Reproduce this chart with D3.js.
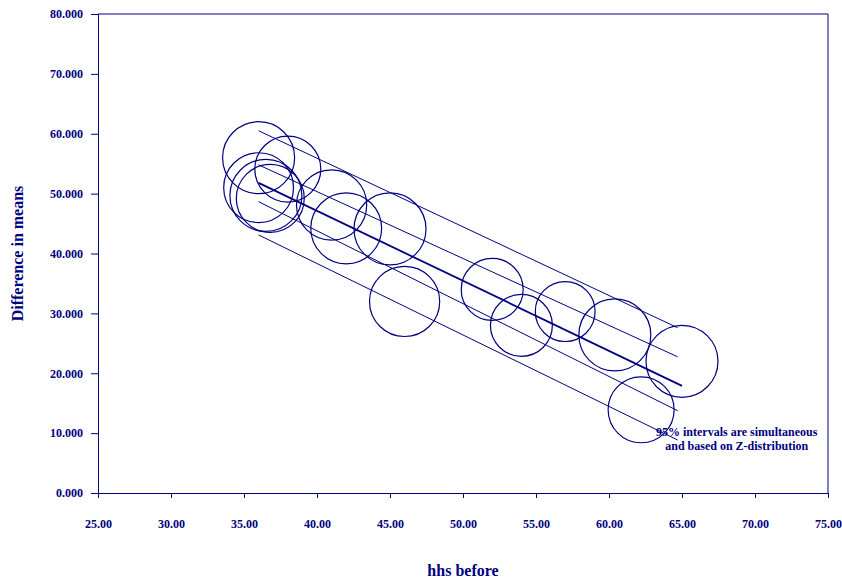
<!DOCTYPE html>
<html>
<head>
<meta charset="utf-8">
<script src="https://cdn.jsdelivr.net/npm/d3@7"></script>
<style>
    body { margin: 0; background: #fff; }
    svg text { font-family: "Liberation Serif", "Times New Roman", serif; font-weight: bold; fill: #000080; }
</style>
</head>
<body>
<svg id="chart" width="842" height="579"></svg>
<script>
// bubble centres (hhs before, difference in means) and relative bubble size
var hhsBefore = [36, 38, 36, 36.5, 36.8, 41, 42, 45, 46, 52, 54, 57, 60.4, 65, 62.2];
var diffMeans = [56, 54.1, 51, 49.7, 49.2, 48.1, 44.2, 44.1, 32, 34, 28, 30.3, 26.4, 22, 13.9];
var bubbleSize = [100, 84, 94, 100, 89, 95, 97, 100, 95, 74, 74, 69, 100, 100, 84];

// fitted line and the 95% bands (start / end points)
var lineNames = ["upperPred", "upperConf", "fit", "lowerConf", "lowerPred"];
var lineX0 = [36, 36, 36, 36, 36];
var lineX1 = [64.7, 64.7, 65, 64.7, 64.7];
var lineY0 = [60.5, 54.8, 51.8, 48.65, 43.1];
var lineY1 = [27.6, 22.75, 17.9, 13.75, 8.85];

var xTicks = [25, 30, 35, 40, 45, 50, 55, 60, 65, 70, 75];
var yTicks = [0, 10, 20, 30, 40, 50, 60, 70, 80];

var navy = "#000080";

var svg = d3.select("#chart"),
    margin = { top: 14, right: 14, bottom: 86, left: 98 },
    width = +svg.attr("width") - margin.left - margin.right,
    height = +svg.attr("height") - margin.top - margin.bottom,
    g = svg.append("g").attr("transform", "translate(" + margin.left + "," + margin.top + ")");

var x = d3.scaleLinear().domain([25, 75]).range([0, width]);
var y = d3.scaleLinear().domain([0, 80]).range([height, 0]);
var r = d3.scaleSqrt().domain([0, 100]).range([0, 36]);

// frame top + right
g.append("path")
    .attr("d", "M0,0H" + width + "V" + height)
    .attr("fill", "none")
    .attr("stroke", navy)
    .attr("stroke-width", 1);

var xAxis = g.append("g")
    .attr("transform", "translate(0," + height + ")")
    .call(d3.axisBottom(x).tickValues(xTicks).tickFormat(d3.format(".2f")).tickSize(5).tickPadding(21));

var yAxis = g.append("g")
    .call(d3.axisLeft(y).tickValues(yTicks).tickFormat(d3.format(".3f")).tickSize(7).tickPadding(8));

[xAxis, yAxis].forEach(function (a) {
    a.selectAll("path, line").attr("stroke", navy);
    a.selectAll("text")
        .attr("fill", navy)
        .style("font-family", "'Liberation Serif', serif")
        .style("font-weight", "bold")
        .style("font-size", "12px");
});

// lines
var lines = lineNames.map(function (name, i) {
    return { name: name, x0: lineX0[i], x1: lineX1[i], y0: lineY0[i], y1: lineY1[i] };
});

g.selectAll(".band")
    .data(lines)
    .enter().append("line")
    .attr("class", "band")
    .attr("x1", function (d) { return x(d.x0); })
    .attr("y1", function (d) { return y(d.y0); })
    .attr("x2", function (d) { return x(d.x1); })
    .attr("y2", function (d) { return y(d.y1); })
    .attr("stroke", navy)
    .attr("stroke-width", function (d) { return d.name === "fit" ? 1.8 : 1; });

// bubbles
var points = hhsBefore.map(function (v, i) {
    return { x: v, y: diffMeans[i], s: bubbleSize[i] };
});

g.selectAll(".bubble")
    .data(points)
    .enter().append("circle")
    .attr("class", "bubble")
    .attr("cx", function (d) { return x(d.x); })
    .attr("cy", function (d) { return y(d.y); })
    .attr("r", function (d) { return r(d.s); })
    .attr("fill", "none")
    .attr("stroke", navy)
    .attr("stroke-width", 1.2);

// note
var note = g.append("text")
    .attr("text-anchor", "middle")
    .style("font-size", "12px");
note.append("tspan").attr("x", x(68.75)).attr("y", y(9.5)).text("95% intervals are simultaneous");
note.append("tspan").attr("x", x(68.75)).attr("y", y(7.2)).text("and based on Z-distribution");

// axis titles
svg.append("text")
    .attr("x", margin.left + width / 2)
    .attr("y", 576)
    .attr("text-anchor", "middle")
    .style("font-size", "16px")
    .text("hhs before");

svg.append("text")
    .attr("transform", "translate(23," + (margin.top + height / 2) + ") rotate(-90)")
    .attr("text-anchor", "middle")
    .style("font-size", "16px")
    .text("Difference in means");
</script>
</body>
</html>
